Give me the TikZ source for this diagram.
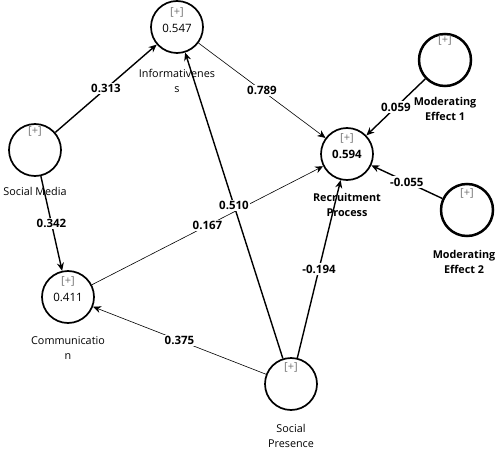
\documentclass[tikz,border=0pt]{standalone}
\usepackage{fontspec}
\setmainfont{Open Sans}
\usetikzlibrary{arrows.meta}
\begin{document}
\begin{tikzpicture}[x=1pt,y=-1pt,
  lv/.style={circle,draw,line width=1.7pt,minimum size=52pt,inner sep=0pt},
  modlv/.style={lv,line width=2.5pt},
  plustxt/.style={text=black!55,font=\fontsize{11}{12}\selectfont},
  valtxt/.style={font=\fontsize{11.5}{12}\selectfont},
  bvaltxt/.style={font=\fontsize{11.5}{12}\selectfont\bfseries},
  lvname/.style={font=\fontsize{10.8}{15}\selectfont,align=center},
  blvname/.style={align=center,font=\fontsize{10.8}{15}\selectfont\bfseries},
  thickedge/.style={-{Stealth[length=8pt,width=7pt]},line width=1.4pt},
  thinedge/.style={-{Stealth[length=8pt,width=7pt]},line width=0.6pt},
  coef/.style={midway,fill=white,inner sep=1.5pt,font=\fontsize{11.5}{12}\selectfont\bfseries}]
\useasboundingbox (0,0) rectangle (500,449);

\node[lv] (inf) at (177,27) {};
\node[lv] (sm) at (35,150) {};
\node[lv] (com) at (68,297) {};
\node[lv] (rec) at (347,154) {};
\node[lv] (sp) at (291,384) {};
\node[modlv] (m1) at (445,60) {};
\node[modlv] (m2) at (467,210) {};

\draw[thickedge] (sm) -- (inf) node[coef] {0.313};
\draw[thickedge] (sm) -- (com) node[coef] {0.342};
\draw[thinedge] (inf) -- (rec) node[coef] {0.789};
\draw[thinedge] (com) -- (rec) node[coef] {0.167};
\draw[thinedge] (sp) -- (com) node[coef] {0.375};
\draw[thickedge] (sp) -- (inf) node[coef] {0.510};
\draw[thickedge] (sp) -- (rec) node[coef] {-0.194};
\draw[thickedge] (m1) -- (rec) node[coef] {0.059};
\draw[thickedge] (m2) -- (rec) node[coef] {-0.055};

\node[plustxt] (infp) at (177,12) {[+]};
\node[valtxt] (infv) at (177,28) {0.547};
\node[plustxt] (smp) at (35,131) {[+]};
\node[plustxt] (comp) at (68,281) {[+]};
\node[valtxt] (comv) at (68,297) {0.411};
\node[plustxt] (recp) at (347,138) {[+]};
\node[bvaltxt] (recv) at (347,154) {0.594};
\node[plustxt] (spp) at (291,367) {[+]};
\node[plustxt] (m1p) at (445,40) {[+]};
\node[plustxt] (m2p) at (467,193) {[+]};

\node[lvname] (infl) at (177,80.5) {Informativenes\\s};
\node[lvname] (sml) at (35,191) {Social Media};
\node[lvname] (coml) at (68,348.5) {Communicatio\\n};
\node[blvname] (recl) at (347,205) {Recruitment\\Process};
\node[lvname] (spl) at (291,435.5) {Social\\Presence};
\node[blvname] (m1l) at (445,108.5) {Moderating\\Effect 1};
\node[blvname] (m2l) at (464,262) {Moderating\\Effect 2};
\end{tikzpicture}
\end{document}
